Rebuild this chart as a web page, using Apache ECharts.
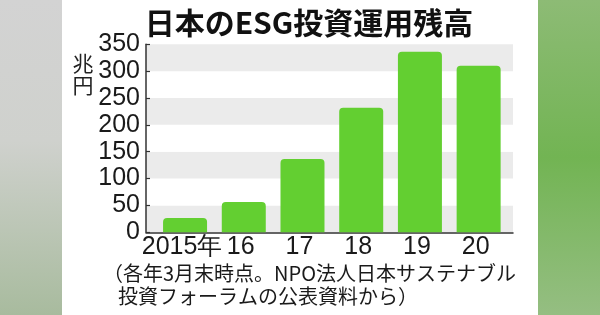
<!DOCTYPE html>
<html>
<head>
<meta charset="utf-8">
<script src="https://cdn.jsdelivr.net/npm/echarts@6/dist/echarts.min.js"></script>
<style>
html,body{margin:0;padding:0;background:#fff;}
#c{width:600px;height:315px;}
</style>
</head>
<body>
<div id="c"></div>
<script>
const titleText = '日本のESG投資運用残高';
const unitText = '兆\n円';
const categories = ['2015年', '16', '17', '18', '19', '20'];
const values = [26.7, 56.3, 136.6, 231.9, 336.0, 310.0];
const yMin = 0, yMax = 350, yStep = 50;
const noteLines = ['（各年3月末時点。NPO法人日本サステナブル', '投資フォーラムの公表資料から）'];

const chart = echarts.init(document.getElementById('c'), null, {renderer: 'canvas'});
const gridTop = 44.3, gridBottom = 315 - 232.3;
const numFont = '"Liberation Sans", Arial, sans-serif';
const jpFont = '"Noto Sans CJK JP", sans-serif';

chart.setOption({
  animation: false,
  backgroundColor: '#ffffff',
  grid: [
    {left: 146, right: 600 - 513, top: gridTop, bottom: gridBottom},
    {left: 155.7, right: 600 - 508, top: gridTop, bottom: gridBottom}
  ],
  xAxis: [
    {gridIndex: 0, type: 'value', min: 0, max: 1, axisLabel: {show: false}, axisTick: {show: false},
     splitLine: {show: false}, axisLine: {show: true, lineStyle: {color: '#333', width: 1.5}}},
    {gridIndex: 1, type: 'category', data: categories,
     axisLine: {show: false}, axisTick: {show: false},
     axisLabel: {interval: 0, hideOverlap: false, color: '#1a1a1a', fontFamily: numFont, fontSize: 25, margin: 2,
       padding: [0, 6, 0, 0]}}
  ],
  yAxis: [
    {gridIndex: 0, type: 'value', min: yMin, max: yMax, interval: yStep,
     axisLine: {show: true, lineStyle: {color: '#333', width: 1.5}},
     axisTick: {show: true, inside: true, length: 4, lineStyle: {color: '#333', width: 1.2}},
     axisLabel: {color: '#1a1a1a', fontFamily: numFont, fontSize: 25, margin: 6},
     splitLine: {show: false},
     splitArea: {show: true, areaStyle: {color: ['#ebebeb', '#ffffff']}}},
    {gridIndex: 1, type: 'value', min: yMin, max: yMax, interval: yStep, show: false}
  ],
  series: [{
    type: 'bar', xAxisIndex: 1, yAxisIndex: 1, data: values, barWidth: 44,
    itemStyle: {color: '#63cf31', borderRadius: [4, 4, 0, 0]}
  }],
  graphic: [
    {type: 'rect', shape: {x: 0, y: 0, width: 62, height: 315}, silent: true,
     style: {fill: new echarts.graphic.LinearGradient(0, 0, 0, 1, [
       {offset: 0, color: '#d3d3d3'}, {offset: 0.45, color: '#cfd1cd'}, {offset: 1, color: '#a8bb9e'}])}},
    {type: 'rect', shape: {x: 538, y: 0, width: 62, height: 315}, silent: true,
     style: {fill: new echarts.graphic.LinearGradient(0, 0, 0, 1, [
       {offset: 0, color: '#8dbb75'}, {offset: 0.5, color: '#72b453'}, {offset: 1, color: '#95be82'}])}},
    {type: 'text', x: 309, y: 23, style: {text: titleText, fill: '#111', font: 'bold 30px ' + jpFont,
      textAlign: 'center', textVerticalAlign: 'middle'}},
    {type: 'text', x: 83, y: 74, style: {text: unitText, fill: '#222', font: '21px ' + jpFont,
      lineHeight: 22, textAlign: 'center', textVerticalAlign: 'middle'}},
    {type: 'text', x: 103, y: 273, style: {text: noteLines[0], fill: '#1a1a1a', font: '20px ' + jpFont,
      textAlign: 'left', textVerticalAlign: 'middle'}},
    {type: 'text', x: 118, y: 296, style: {text: noteLines[1], fill: '#1a1a1a', font: '20px ' + jpFont,
      textAlign: 'left', textVerticalAlign: 'middle'}}
  ]
});
</script>
</body>
</html>
